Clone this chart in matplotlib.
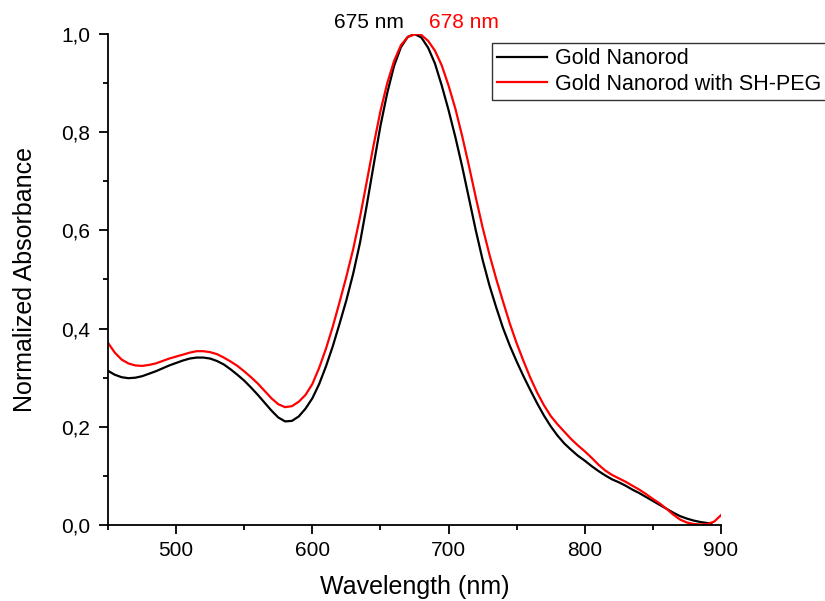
import numpy as np
import matplotlib
matplotlib.use("Agg")
import matplotlib.pyplot as plt
from matplotlib.ticker import MultipleLocator, FuncFormatter

plt.rcParams['font.family'] = ['Liberation Sans', 'DejaVu Sans']

# wavelength grid (nm) and absorbance
wl_gold = [450, 455, 460, 465, 470, 475, 480, 485, 490, 495, 500, 505, 510, 515, 520,
           525, 530, 535, 540, 545, 550, 555, 560, 565, 570, 575, 580, 585, 590, 595,
           600, 605, 610, 615, 620, 625, 630, 635, 640, 645, 650, 655, 660, 665, 670,
           675, 680, 685, 690, 695, 700, 705, 710, 715, 720, 725, 730, 735, 740, 745,
           750, 755, 760, 765, 770, 775, 780, 785, 790, 795, 800, 805, 810, 815, 820,
           825, 830, 835, 840, 845, 850, 855, 860, 865, 870, 875, 880, 885, 890, 893]
abs_gold = [0.314, 0.306, 0.301, 0.299, 0.300, 0.303, 0.308, 0.313, 0.319, 0.325,
            0.330, 0.335, 0.339, 0.341, 0.341, 0.339, 0.334, 0.327, 0.317, 0.306,
            0.294, 0.280, 0.265, 0.249, 0.233, 0.219, 0.211, 0.212, 0.221, 0.237,
            0.258, 0.287, 0.323, 0.364, 0.410, 0.458, 0.512, 0.575, 0.652, 0.733,
            0.813, 0.880, 0.935, 0.973, 0.994, 1.000, 0.993, 0.972, 0.940, 0.895,
            0.845, 0.790, 0.730, 0.665, 0.600, 0.540, 0.488, 0.443, 0.401, 0.365,
            0.333, 0.303, 0.275, 0.248, 0.223, 0.201, 0.182, 0.166, 0.153, 0.141,
            0.131, 0.120, 0.110, 0.101, 0.093, 0.087, 0.080, 0.072, 0.065, 0.057,
            0.049, 0.041, 0.033, 0.025, 0.018, 0.013, 0.009, 0.006, 0.004, 0.003]

wl_peg = [450, 455, 460, 465, 470, 475, 480, 485, 490, 495, 500, 505, 510, 515, 520,
          525, 530, 535, 540, 545, 550, 555, 560, 565, 570, 575, 580, 585, 590, 595,
          600, 605, 610, 615, 620, 625, 630, 635, 640, 645, 650, 655, 660, 665, 670,
          675, 678, 680, 685, 690, 695, 700, 705, 710, 715, 720, 725, 730, 735, 740,
          745, 750, 755, 760, 765, 770, 775, 780, 785, 790, 795, 800, 805, 810, 815,
          820, 825, 830, 835, 840, 845, 850, 855, 860, 865, 870, 875, 880, 885, 890,
          895, 900]
abs_peg = [0.371, 0.351, 0.337, 0.329, 0.325, 0.324, 0.326, 0.329, 0.334, 0.339,
           0.343, 0.347, 0.351, 0.354, 0.354, 0.352, 0.348, 0.341, 0.333, 0.324,
           0.313, 0.301, 0.288, 0.273, 0.258, 0.246, 0.240, 0.242, 0.251, 0.265,
           0.287, 0.320, 0.359, 0.404, 0.454, 0.506, 0.562, 0.627, 0.700, 0.774,
           0.843, 0.900, 0.945, 0.977, 0.994, 0.999, 1.000, 0.998, 0.986, 0.966,
           0.936, 0.895, 0.848, 0.792, 0.731, 0.667, 0.606, 0.551, 0.501, 0.455,
           0.410, 0.370, 0.334, 0.300, 0.270, 0.244, 0.222, 0.205, 0.190, 0.175,
           0.162, 0.150, 0.137, 0.123, 0.111, 0.102, 0.095, 0.088, 0.080, 0.072,
           0.063, 0.053, 0.044, 0.033, 0.021, 0.011, 0.005, 0.002, 0.001, 0.002,
           0.007, 0.020]

labels = ['Gold Nanorod', 'Gold Nanorod with SH-PEG']
colors = ['black', 'red']

fig = plt.figure(figsize=(8.25, 6.01), dpi=100)
ax = fig.add_axes([108/825, 1 - 525/601, 613/825, 491/601])

ax.plot(wl_gold, abs_gold, color=colors[0], lw=1.6, label=labels[0])
ax.plot(wl_peg, abs_peg, color=colors[1], lw=1.6, label=labels[1])

ax.set_xlim(450, 900)
ax.set_ylim(0, 1.0)
ax.xaxis.set_major_locator(MultipleLocator(100))
ax.xaxis.set_minor_locator(MultipleLocator(50))
ax.yaxis.set_major_locator(MultipleLocator(0.2))
ax.yaxis.set_minor_locator(MultipleLocator(0.1))
ax.yaxis.set_major_formatter(FuncFormatter(lambda v, p: f"{v:.1f}".replace('.', ',')))

for s in ['top', 'right']:
    ax.spines[s].set_visible(False)
for s in ['left', 'bottom']:
    ax.spines[s].set_linewidth(1.3)

ax.tick_params(which='major', direction='out', length=6.8, width=1.3, labelsize=15)
ax.tick_params(which='minor', direction='out', length=3.4, width=1.3)
ax.tick_params(axis='x', pad=4.5)
ax.tick_params(axis='y', pad=6)

ax.set_xlabel('Wavelength (nm)', fontsize=18, labelpad=11)
ax.set_ylabel('Normalized Absorbance', fontsize=18, labelpad=17)

ax.text(667, 1.024, '675 nm', color='black', fontsize=15, ha='right', va='center')
ax.text(686, 1.024, '678 nm', color='red', fontsize=15, ha='left', va='center')

leg = ax.legend(loc='upper left', bbox_to_anchor=(492/825, 1 - 43/601),
                bbox_transform=fig.transFigure, fontsize=15.5, frameon=True,
                fancybox=False, borderpad=0.25, borderaxespad=0, handlelength=2.3,
                handletextpad=0.37, labelspacing=0.2)
leg.get_frame().set_edgecolor('black')
leg.get_frame().set_linewidth(1.0)

fig.savefig('out.png', dpi=100)
